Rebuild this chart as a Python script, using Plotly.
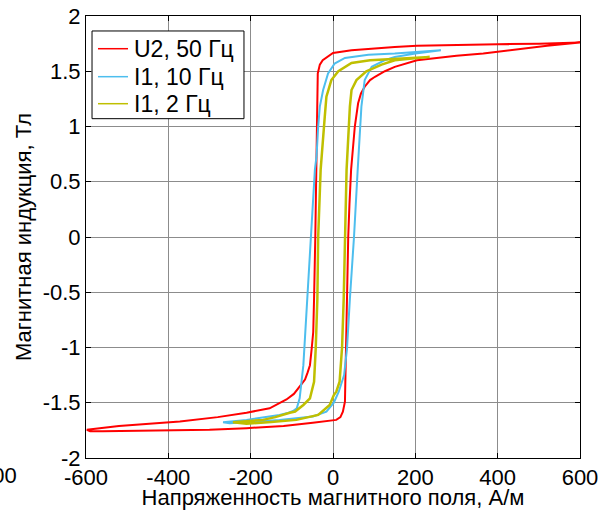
import plotly.graph_objects as go

# U2, 50 Hz loop (descending branch then ascending branch)
red_H = [600, 560, 500, 400, 300, 204, 150, 100, 45, 0, -12, -25, -32, -35, -37, -39, -40, -43, -46, -48, -52, -56, -62, -68, -76, -84, -95, -113, -154, -210, -280, -372, -450, -520, -598,
         -590, -560, -500, -400, -300, -210, -120, -49, 0, 8, 18, 24, 29, 31, 33, 37, 40, 44, 53, 61, 68, 77, 90, 102, 126, 150, 204, 300, 365, 450, 520, 600]
red_B = [1.76, 1.755, 1.75, 1.745, 1.74, 1.73, 1.72, 1.705, 1.69, 1.665, 1.635, 1.60, 1.56, 1.52, 1.48, 1.0, 0.61, 0.0, -0.56, -0.86, -1.02, -1.16, -1.23, -1.29, -1.33, -1.37, -1.42, -1.47, -1.55, -1.59, -1.63, -1.67, -1.69, -1.71, -1.745,
         -1.757, -1.758, -1.755, -1.75, -1.745, -1.73, -1.71, -1.68, -1.66, -1.655, -1.63, -1.58, -1.49, -1.01, -0.56, 0.0, 0.3, 0.61, 1.0, 1.21, 1.30, 1.36, 1.42, 1.45, 1.50, 1.54, 1.60, 1.64, 1.66, 1.70, 1.73, 1.76]

# I1, 10 Hz loop
blue_H = [262, 210, 150, 86, 29, 4, -12, -24, -32, -36, -40, -44, -54, -62, -72, -81, -88, -97, -108, -130, -170, -210, -267,
          -251, -200, -130, -49, -16, 2, 14, 27, 34, 41, 51, 60, 69, 77, 94, 126, 150, 200, 262]
blue_B = [1.69, 1.675, 1.66, 1.65, 1.62, 1.57, 1.48, 1.33, 1.18, 1.0, 0.73, 0.61, 0.0, -0.56, -1.16, -1.46, -1.55, -1.575, -1.59, -1.61, -1.635, -1.655, -1.676,
          -1.685, -1.675, -1.655, -1.625, -1.58, -1.50, -1.40, -1.25, -1.01, -0.56, 0.0, 0.61, 1.18, 1.42, 1.54, 1.60, 1.63, 1.66, 1.69]

# I1, 2 Hz loop
yel_H = [235, 204, 150, 90, 45, 13, -4, -16, -20, -24, -28, -30, -36, -38, -42, -46, -56, -72, -92, -105, -140, -170, -243,
         -210, -150, -89, -36, -8, 2, 8, 16, 22, 26, 30, 33, 41, 45, 57, 81, 118, 150, 204, 235]
yel_B = [1.63, 1.625, 1.615, 1.60, 1.575, 1.50, 1.42, 1.27, 1.09, 0.88, 0.70, 0.61, 0.0, -0.56, -1.01, -1.31, -1.46, -1.52, -1.58, -1.59, -1.63, -1.655, -1.676,
         -1.69, -1.675, -1.655, -1.61, -1.52, -1.43, -1.40, -1.31, -1.0, -0.56, 0.0, 0.61, 1.18, 1.33, 1.42, 1.50, 1.56, 1.60, 1.62, 1.63]

names = ["U2, 50 Гц", "I1, 10 Гц", "I1, 2 Гц"]
colors = ["#ff0000", "#4dbeee", "#bfbf00"]
widths = [2, 2, 2.5]
H_data = [red_H, blue_H, yel_H]
B_data = [red_B, blue_B, yel_B]

x_ticks = [-600, -400, -200, 0, 200, 400, 600]
y_ticks = [-2, -1.5, -1, -0.5, 0, 0.5, 1, 1.5, 2]

fig = go.Figure()
for name, h, b, col, w in zip(names, H_data, B_data, colors, widths):
    fig.add_trace(go.Scatter(x=h, y=b, mode="lines", name=name, showlegend=False,
                             line=dict(color=col, width=w)))

font = "Liberation Sans, Arial, sans-serif"
axis_common = dict(showline=True, linecolor="black", linewidth=1, mirror="ticks",
                   ticks="inside", ticklen=5, tickcolor="black", automargin=False,
                   showgrid=True, gridcolor="#8c8c8c", gridwidth=1, zeroline=False,
                   tickfont=dict(family=font, size=22, color="black"))

fig.update_layout(
    width=605, height=510,
    margin=dict(l=86, r=25, t=16, b=52, autoexpand=False),
    paper_bgcolor="white", plot_bgcolor="white",
    font=dict(family=font, size=22, color="black"),
    xaxis=dict(range=[-600, 600], tickvals=x_ticks, ticktext=[str(v) for v in x_ticks],
               title=dict(text="Напряженность магнитного поля, А/м", standoff=4,
                          font=dict(family=font, size=22)), **axis_common),
    yaxis=dict(range=[-2, 2], tickvals=y_ticks, ticktext=[f"{v:g}" for v in y_ticks],
               title=dict(text="Магнитная индукция, Тл", standoff=4,
                          font=dict(family=font, size=22)), **axis_common),
    showlegend=False,
)

# Legend box (drawn in paper coordinates, MATLAB-style compact rows)
leg_x0, leg_x1, leg_y0, leg_y1 = 0.0122, 0.3198, 0.7677, 0.9661
row_y = [0.9260, 0.8627, 0.8016]
fig.add_shape(type="rect", xref="paper", yref="paper", x0=leg_x0, x1=leg_x1, y0=leg_y0, y1=leg_y1,
              line=dict(color="black", width=1), fillcolor="white", layer="above")
for name, col, yy in zip(names, colors, row_y):
    fig.add_shape(type="line", xref="paper", yref="paper", x0=0.0243, x1=0.0850, y0=yy, y1=yy,
                  line=dict(color=col, width=1.5), layer="above")
    fig.add_annotation(text=name, xref="paper", yref="paper", x=0.0931, y=yy,
                       xanchor="left", yanchor="middle", showarrow=False,
                       font=dict(family=font, size=23, color="black"))

fig.add_annotation(text="600", xref="paper", yref="paper", x=-0.1356, y=-0.040,
                   xanchor="right", yanchor="middle", showarrow=False,
                   font=dict(family=font, size=22, color="black"))

fig.write_html("out.html")
